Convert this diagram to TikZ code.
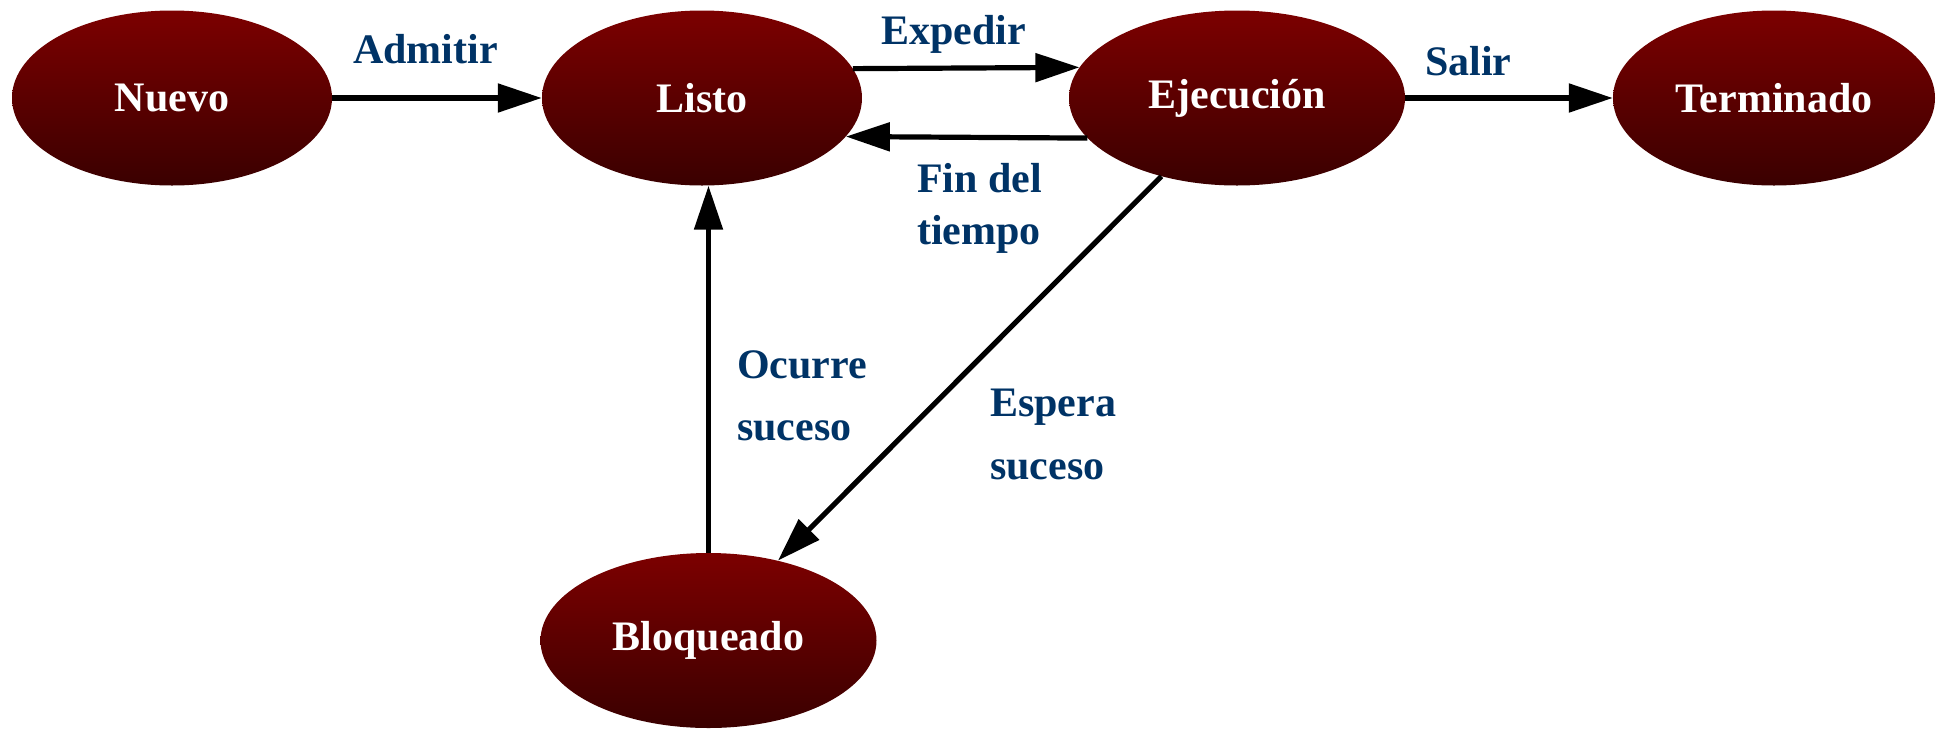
\documentclass[tikz,border=0pt]{standalone}
\usepackage{fontspec}
\setmainfont{Liberation Serif}
\usetikzlibrary{shapes.geometric,arrows.meta}
\definecolor{redtop}{RGB}{124,0,0}
\definecolor{redbot}{RGB}{58,0,0}
\definecolor{lblblue}{RGB}{0,51,102}
\tikzset{
  state/.style={ellipse, inner sep=0pt, minimum height=175pt,
    top color=redtop, bottom color=redbot, draw=none,
    text=white, font=\fontsize{42}{50}\selectfont\bfseries},
  lbl/.style={anchor=base west, inner sep=0pt, text=lblblue,
    font=\fontsize{42}{50}\selectfont\bfseries},
  conn/.style={line width=5.2pt, draw=black,
    -{Triangle[length=44pt,width=28pt]}}
}
\begin{document}
\begin{tikzpicture}[x=1pt,y=-1pt]
\useasboundingbox (0,0) rectangle (1939,729);
\node[state, minimum width=320pt] (nuevo) at (172,98) {Nuevo};
\node[state, minimum width=320pt] (listo) at (702,98) {Listo};
\node[state, minimum width=336pt] (ejec) at (1237,98) {Ejecución};
\node[state, minimum width=322pt] (term) at (1774,98) {Terminado};
\node[state, minimum width=336pt] (bloq) at (708.5,640.5) {Bloqueado};

\draw[conn] (nuevo.east) -- (listo.west);
\draw[conn] (listo.11.3) -- (ejec.169.24);
\draw[conn] (ejec.195) -- (listo.-15.7);
\draw[conn] (ejec.east) -- (term.west);
\draw[conn] (bloq.north) -- (bloq.north |- listo.south);
\draw[conn] (ejec.226.8) -- (bloq.49.5);

\node[lbl] (ladm) at (353,63) {Admitir};
\node[lbl] (lexp) at (881,44) {Expedir};
\node[lbl] (lfin1) at (917,192) {Fin del};
\node[lbl] (lfin2) at (917,244) {tiempo};
\node[lbl] (lsal) at (1425,75) {Salir};
\node[lbl] (locu1) at (737,378) {Ocurre};
\node[lbl] (locu2) at (737,440) {suceso};
\node[lbl] (lesp1) at (990,416) {Espera};
\node[lbl] (lesp2) at (990,479) {suceso};
\end{tikzpicture}
\end{document}
